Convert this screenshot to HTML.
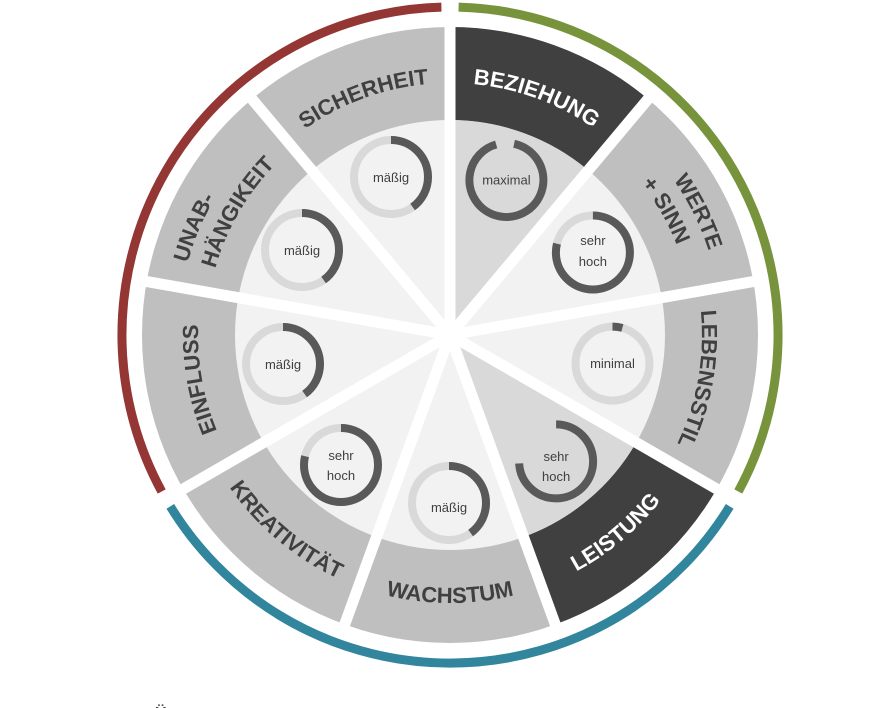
<!DOCTYPE html>
<html><head><meta charset="utf-8"><style>
html,body{margin:0;padding:0;background:#fff;}
svg{display:block;}
.lb{font-family:"Liberation Sans",sans-serif;font-weight:bold;font-size:22px;fill:#404040;}
.lw{fill:#ffffff;}
.dt{font-family:"Liberation Sans",sans-serif;font-size:13px;fill:#404040;text-anchor:middle;}
</style></head><body>
<svg width="874" height="708" viewBox="0 0 874 708" xmlns="http://www.w3.org/2000/svg">
<defs>
<path id="t252" d="M231.8,209 A252,252 0 0 1 668.2,209"/>
<path id="t272" d="M214.4,199 A272,272 0 0 1 685.6,199"/>
<path id="t244" d="M238.7,213 A244,244 0 0 1 661.3,213"/>
<path id="b268" d="M217.9,469 A268,268 0 0 0 682.1,469"/>
</defs>
<g fill="none" stroke-width="9">
<path d="M458.6,7.1 A328,328 0 0 1 738.3,491.5" stroke="#77933c"/>
<path d="M729.7,506.4 A328,328 0 0 1 170.3,506.4" stroke="#31859c"/>
<path d="M161.7,491.5 A328,328 0 0 1 441.4,7.1" stroke="#943634"/>
</g>
<circle cx="450" cy="335" r="308" fill="#bfbfbf"/>
<circle cx="450" cy="335" r="215" fill="#f2f2f2"/>
<path d="M450,27 A308,308 0 0 1 648.0,99.1 L588.2,170.3 A215,215 0 0 0 450,120 Z" fill="#404040"/>
<path d="M450,335 L450,120 A215,215 0 0 1 588.2,170.3 Z" fill="#d9d9d9"/>
<path d="M716.7,489 A308,308 0 0 1 555.3,624.4 L523.5,537 A215,215 0 0 0 636.2,442.5 Z" fill="#404040"/>
<path d="M450,335 L636.2,442.5 A215,215 0 0 1 523.5,537 Z" fill="#d9d9d9"/>
<g stroke="#fff" stroke-width="11">
<line x1="450" y1="335" x2="450" y2="20"/>
<line x1="450" y1="335" x2="652.5" y2="93.7"/>
<line x1="450" y1="335" x2="760.2" y2="280.3"/>
<line x1="450" y1="335" x2="722.8" y2="492.5"/>
<line x1="450" y1="335" x2="557.7" y2="631"/>
<line x1="450" y1="335" x2="342.3" y2="631"/>
<line x1="450" y1="335" x2="177.2" y2="492.5"/>
<line x1="450" y1="335" x2="139.8" y2="280.3"/>
<line x1="450" y1="335" x2="247.5" y2="93.7"/>
</g>
<text class="lb lw" transform="rotate(20 450 335)"><textPath href="#t252" startOffset="50%" text-anchor="middle">BEZIEHUNG</textPath></text>
<text class="lb" transform="rotate(60 450 335)"><textPath href="#t272" startOffset="53%" text-anchor="middle">WERTE</textPath></text>
<text class="lb" transform="rotate(60 450 335)"><textPath href="#t244" startOffset="50%" text-anchor="middle">+ SINN</textPath></text>
<text class="lb" transform="rotate(100 450 335)"><textPath href="#t252" startOffset="50%" text-anchor="middle">LEBENSSTIL</textPath></text>
<text class="lb lw" transform="rotate(-40 450 335)"><textPath href="#b268" startOffset="50%" text-anchor="middle">LEISTUNG</textPath></text>
<text class="lb" transform="rotate(0 450 335)"><textPath href="#b268" startOffset="50%" text-anchor="middle">WACHSTUM</textPath></text>
<text class="lb" transform="rotate(40 450 335)"><textPath href="#b268" startOffset="50%" text-anchor="middle">KREATIVITÄT</textPath></text>
<text class="lb" transform="rotate(260 450 335)"><textPath href="#t252" startOffset="50%" text-anchor="middle">EINFLUSS</textPath></text>
<text class="lb" transform="rotate(300 450 335)"><textPath href="#t272" startOffset="44%" text-anchor="middle">UNAB-</textPath></text>
<text class="lb" transform="rotate(300 450 335)"><textPath href="#t244" startOffset="50%" text-anchor="middle">HÄNGIKEIT</textPath></text>
<text class="lb" transform="rotate(340 450 335)"><textPath href="#t252" startOffset="50%" text-anchor="middle">SICHERHEIT</textPath></text>
<g fill="none" stroke-width="8">
<circle cx="506.4" cy="180" r="37" stroke="#d9d9d9"/>
<circle cx="506.4" cy="180" r="37" stroke="#595959" stroke-dasharray="214 300" transform="rotate(-78 506.4 180)"/>
<circle cx="592.9" cy="252.5" r="37" stroke="#d9d9d9"/>
<circle cx="592.9" cy="252.5" r="37" stroke="#595959" stroke-dasharray="183 300" transform="rotate(-90 592.9 252.5)"/>
<circle cx="612.5" cy="363.6" r="37" stroke="#d9d9d9"/>
<circle cx="612.5" cy="363.6" r="37" stroke="#595959" stroke-dasharray="10 300" transform="rotate(-90 612.5 363.6)"/>
<circle cx="556.1" cy="461.4" r="37" stroke="#d9d9d9"/>
<circle cx="556.1" cy="461.4" r="37" stroke="#595959" stroke-dasharray="172 300" transform="rotate(-90 556.1 461.4)"/>
<circle cx="449" cy="503" r="37" stroke="#d9d9d9"/>
<circle cx="449" cy="503" r="37" stroke="#595959" stroke-dasharray="93 300" transform="rotate(-90 449 503)"/>
<circle cx="341" cy="465" r="37" stroke="#d9d9d9"/>
<circle cx="341" cy="465" r="37" stroke="#595959" stroke-dasharray="183 300" transform="rotate(-90 341 465)"/>
<circle cx="283" cy="364" r="37" stroke="#d9d9d9"/>
<circle cx="283" cy="364" r="37" stroke="#595959" stroke-dasharray="93 300" transform="rotate(-90 283 364)"/>
<circle cx="302" cy="250" r="37" stroke="#d9d9d9"/>
<circle cx="302" cy="250" r="37" stroke="#595959" stroke-dasharray="93 300" transform="rotate(-90 302 250)"/>
<circle cx="391" cy="177" r="37" stroke="#d9d9d9"/>
<circle cx="391" cy="177" r="37" stroke="#595959" stroke-dasharray="93 300" transform="rotate(-90 391 177)"/>
</g>
<text class="dt" x="506.4" y="184.5">maximal</text>
<text class="dt" x="592.9" y="245">sehr</text><text class="dt" x="592.9" y="266">hoch</text>
<text class="dt" x="612.5" y="368">minimal</text>
<text class="dt" x="556.1" y="461">sehr</text><text class="dt" x="556.1" y="481">hoch</text>
<text class="dt" x="449" y="512">mäßig</text>
<text class="dt" x="341" y="460">sehr</text><text class="dt" x="341" y="480">hoch</text>
<text class="dt" x="283" y="369">mäßig</text>
<text class="dt" x="302" y="255">mäßig</text>
<text class="dt" x="391" y="182">mäßig</text>
<text x="155" y="718" font-family="Liberation Sans,sans-serif" font-weight="bold" font-size="16" fill="#404040">Ü</text>
</svg>
</body></html>
